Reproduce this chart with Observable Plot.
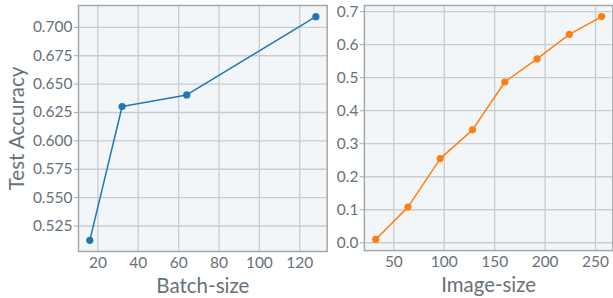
<!DOCTYPE html>
<html>
<head>
<meta charset="utf-8">
<script src="https://cdn.jsdelivr.net/npm/d3@7"></script>
<script src="https://cdn.jsdelivr.net/npm/@observablehq/plot@0.6"></script>
<style>
  html, body { margin: 0; padding: 0; background: #ffffff; }
  #wrap { position: relative; width: 613px; height: 298px; overflow: hidden; font-family: Lato, "Open Sans", sans-serif; }
  #wrap > div { position: absolute; top: 0; }
</style>
</head>
<body>
<div id="wrap"><div id="left"></div><div id="right"></div></div>
<script>
// Panel 1: Batch-size vs Test Accuracy
const batchSizes = [16, 32, 64, 128];
const batchAcc = [0.5124, 0.6303, 0.6405, 0.7094];
const batchTicks = [20, 40, 60, 80, 100, 120];
const accTicksLeft = [0.525, 0.55, 0.575, 0.6, 0.625, 0.65, 0.675, 0.7];

// Panel 2: Image-size vs Test Accuracy
const imageSizes = [32, 64, 96, 128, 160, 192, 224, 256];
const imageAcc = [0.010, 0.108, 0.255, 0.342, 0.487, 0.557, 0.631, 0.685];
const imageTicks = [50, 100, 150, 200, 250];
const accTicksRight = [0.0, 0.1, 0.2, 0.3, 0.4, 0.5, 0.6, 0.7];

const yLabel = "Test Accuracy";
const xLabelLeft = "Batch-size";
const xLabelRight = "Image-size";

const textColor = "#67717a";
const gridColor = "#c9cdd0";
const frameColor = "#a3a8ac";
const panelBg = "#f3f6f9";

function pad(ext, f = 0.05) {
  const r = ext[1] - ext[0];
  return [ext[0] - r * f, ext[1] + r * f];
}

function panel({xs, ys, xTicks, yTicks, yFormat, color, xLabel, yLab, width, marginLeft, marginRight}) {
  const data = xs.map((x, i) => ({x, y: ys[i]}));
  const marks = [
    Plot.frame({fill: panelBg, stroke: null}),
    Plot.gridX(xTicks, {stroke: gridColor, strokeOpacity: 1, strokeWidth: 1.3}),
    Plot.gridY(yTicks, {stroke: gridColor, strokeOpacity: 1, strokeWidth: 1.3}),
    Plot.frame({stroke: frameColor, strokeWidth: 1.5}),
    Plot.axisX(xTicks, {tickSize: 0, tickPadding: 5, fontSize: 15.5, color: textColor, label: null}),
    Plot.axisY(yTicks, {tickSize: 4, tickPadding: 2, fontSize: 15.5, color: textColor, stroke: frameColor, tickFormat: d3.format(yFormat), label: null}),
    Plot.line(data, {x: "x", y: "y", stroke: color, strokeWidth: 1.5}),
    Plot.dot(data, {x: "x", y: "y", fill: color, r: 3.6, stroke: null}),
    Plot.text([xLabel], {frameAnchor: "bottom", dy: 35, lineAnchor: "middle", textAnchor: "middle", fontSize: 20.5, fill: textColor, text: d => d})
  ];
  if (yLab) {
    marks.push(Plot.text([yLab], {frameAnchor: "left", dx: -61, rotate: -90, lineAnchor: "middle", textAnchor: "middle", fontSize: 20.5, fill: textColor, text: d => d}));
  }
  return Plot.plot({
    width, height: 298,
    marginLeft, marginRight, marginTop: 5, marginBottom: 47,
    style: {fontFamily: "Lato, 'Open Sans', sans-serif", background: "transparent", overflow: "visible"},
    x: {domain: pad(d3.extent(xs))},
    y: {domain: pad(d3.extent(ys))},
    marks
  });
}

const left = panel({xs: batchSizes, ys: batchAcc, xTicks: batchTicks, yTicks: accTicksLeft, yFormat: ".3f",
  color: "#1f77b4", xLabel: xLabelLeft, yLab: yLabel, width: 330, marginLeft: 78, marginRight: 3.3});
document.getElementById("left").style.left = "0px";
document.getElementById("left").appendChild(left);

const right = panel({xs: imageSizes, ys: imageAcc, xTicks: imageTicks, yTicks: accTicksRight, yFormat: ".1f",
  color: "#ff7f0e", xLabel: xLabelRight, yLab: null, width: 284, marginLeft: 34, marginRight: 0.6});
document.getElementById("right").style.left = "330px";
document.getElementById("right").appendChild(right);
</script>
</body>
</html>
